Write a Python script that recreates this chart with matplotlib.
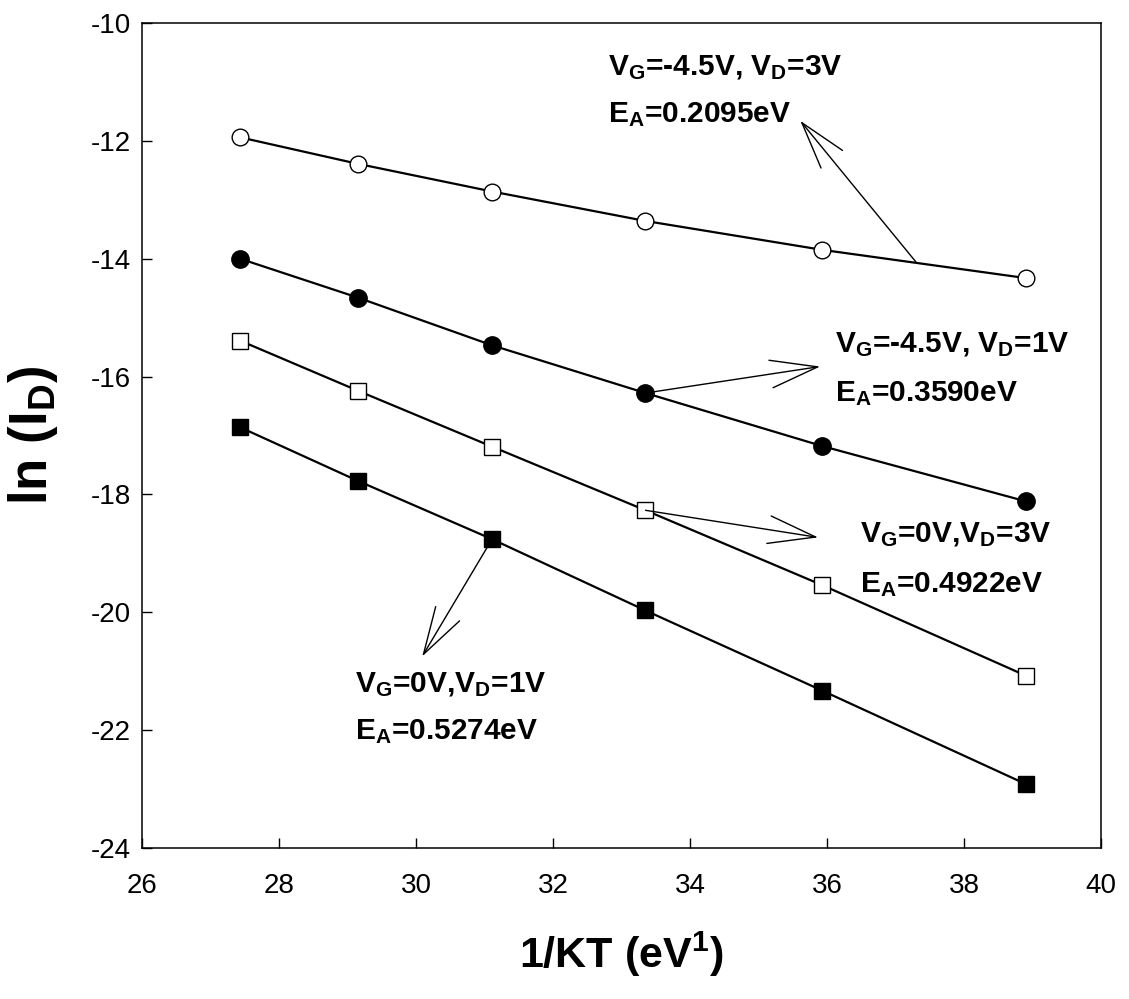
import numpy as np
import matplotlib
matplotlib.use("Agg")
import matplotlib.pyplot as plt

plt.rcParams['font.family'] = ['Liberation Sans', 'DejaVu Sans']
plt.rcParams['axes.unicode_minus'] = False
plt.rcParams['mathtext.fontset'] = 'custom'
plt.rcParams['mathtext.rm'] = 'Liberation Sans:bold'
plt.rcParams['mathtext.it'] = 'Liberation Sans:bold'
plt.rcParams['mathtext.bf'] = 'Liberation Sans:bold'

# 1/kT values (eV^-1)
inv_kt = [27.43, 29.15, 31.11, 33.35, 35.93, 38.91]
# ln(I_D) for the four bias conditions
vg45_vd3 = [-11.94, -12.39, -12.86, -13.36, -13.85, -14.33]
vg45_vd1 = [-14.00, -14.66, -15.47, -16.28, -17.18, -18.12]
vg0_vd3 = [-15.39, -16.24, -17.19, -18.27, -19.54, -21.08]
vg0_vd1 = [-16.86, -17.77, -18.76, -19.97, -21.33, -22.92]

fig = plt.figure(figsize=(11.29, 9.99), dpi=100)
ax = fig.add_axes([0.1258, 0.1512, 0.8494, 0.8258])

lw = 1.6
ax.plot(inv_kt, vg45_vd3, '-o', color='k', lw=lw, ms=12, mfc='white', mec='k', mew=1.0)
ax.plot(inv_kt, vg45_vd1, '-o', color='k', lw=lw, ms=12.5, mfc='k', mec='k')
ax.plot(inv_kt, vg0_vd3, '-s', color='k', lw=lw, ms=11, mfc='white', mec='k', mew=1.0)
ax.plot(inv_kt, vg0_vd1, '-s', color='k', lw=lw, ms=11, mfc='k', mec='k')

ax.set_xlim(26, 40)
ax.set_ylim(-24, -10)
ax.set_xticks(np.arange(26, 41, 2))
ax.set_yticks(np.arange(-24, -9, 2))
ax.tick_params(direction='in', length=7, width=1, labelsize=20, top=False, right=False)
ax.tick_params(axis='x', pad=18)
ax.tick_params(axis='y', pad=8)
for s in ax.spines.values():
    s.set_linewidth(1.1)

ax.set_xlabel(r'1/KT (eV$^{\rm 1}$)', fontsize=31, fontweight='bold', labelpad=22)
ax.set_ylabel(r'ln (I$_{\rm D}$)', fontsize=38, fontweight='bold', labelpad=22)

arrow = dict(arrowstyle='->,head_length=1.7,head_width=0.5', color='k', lw=1.0,
             shrinkA=0, shrinkB=0, mutation_scale=20)

# arrows from the curves to the labels
x_a = 37.31
ax.annotate('', xy=(35.61, -11.66), xytext=(x_a, np.interp(x_a, inv_kt, vg45_vd3)), arrowprops=arrow)
ax.annotate('', xy=(35.90, -15.83), xytext=(inv_kt[3], vg45_vd1[3]), arrowprops=arrow)
ax.annotate('', xy=(35.87, -18.73), xytext=(inv_kt[3], vg0_vd3[3]), arrowprops=arrow)
ax.annotate('', xy=(30.09, -20.75), xytext=(inv_kt[2], vg0_vd1[2]), arrowprops=arrow)

tkw = dict(fontsize=21.5, fontweight='bold', va='baseline', ha='left')
ax.text(32.80, -10.88, r'V$_{\rm G}$=-4.5V, V$_{\rm D}$=3V', **tkw)
ax.text(32.80, -11.69, r'E$_{\rm A}$=0.2095eV', **tkw)
ax.text(36.12, -15.58, r'V$_{\rm G}$=-4.5V, V$_{\rm D}$=1V', **tkw)
ax.text(36.12, -16.42, r'E$_{\rm A}$=0.3590eV', **tkw)
ax.text(36.48, -18.81, r'V$_{\rm G}$=0V,V$_{\rm D}$=3V', **tkw)
ax.text(36.48, -19.66, r'E$_{\rm A}$=0.4922eV', **tkw)
ax.text(29.11, -21.36, r'V$_{\rm G}$=0V,V$_{\rm D}$=1V', **tkw)
ax.text(29.11, -22.15, r'E$_{\rm A}$=0.5274eV', **tkw)

fig.savefig('out.png', dpi=100)
